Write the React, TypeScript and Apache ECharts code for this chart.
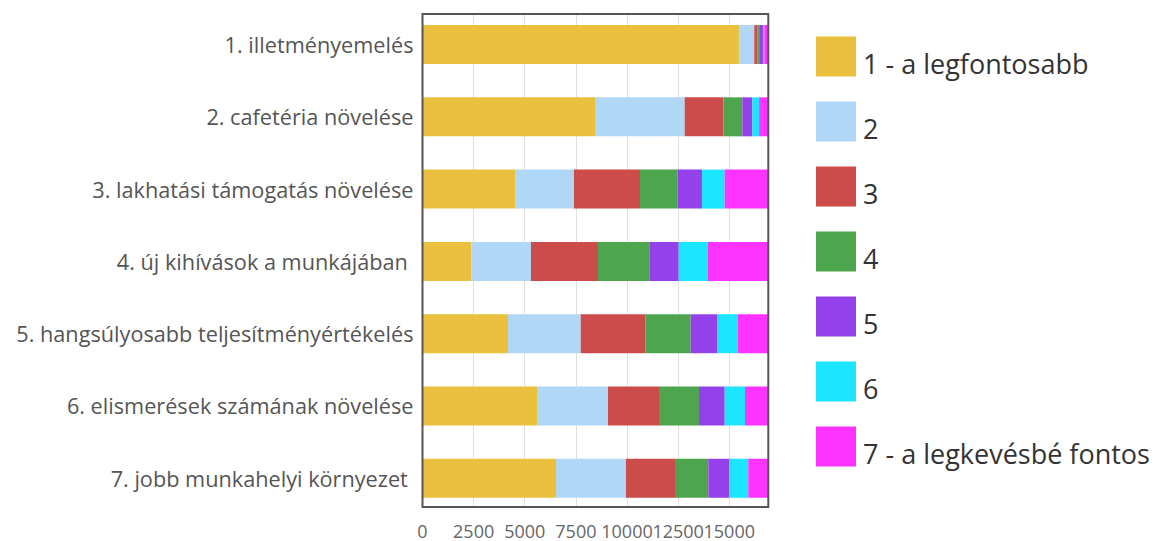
import React, { useEffect, useRef } from "react";
import * as echarts from "echarts";

const categories = [
  "1. illetményemelés",
  "2. cafetéria növelése",
  "3. lakhatási támogatás növelése",
  "4. új kihívások a munkájában ",
  "5. hangsúlyosabb teljesítményértékelés",
  "6. elismerések számának növelése",
  "7. jobb munkahelyi környezet ",
];

const seriesNames = [
  "1 - a legfontosabb",
  "2",
  "3",
  "4",
  "5",
  "6",
  "7 - a legkevésbé fontos",
];

const rank1 = [15475, 8435, 4557, 2386, 4181, 5599, 6528];
const rank2 = [750, 4385, 2851, 2919, 3555, 3472, 3423];
const rank3 = [163, 1890, 3227, 3276, 3159, 2494, 2396];
const rank4 = [114, 930, 1843, 2509, 2220, 1956, 1628];
const rank5 = [147, 490, 1188, 1438, 1286, 1257, 1027];
const rank6 = [65, 330, 1110, 1418, 1012, 993, 929];
const rank7 = [196, 455, 2132, 2963, 1496, 1139, 978];

const colors = ["#EBC03F", "#B0D7F6", "#CC4B4B", "#4DA64D", "#9440EB", "#1CE6FF", "#FF33FF"];

const axisMax = 16910;

export default function App() {
  const ref = useRef<HTMLDivElement>(null);
  useEffect(() => {
    document.body.style.margin = "0";
    const chart = echarts.init(ref.current!, null, { renderer: "svg" });
    const all = [rank1, rank2, rank3, rank4, rank5, rank6, rank7];
    const font = "'Open Sans', 'Noto Sans', sans-serif";
    chart.setOption({
      animation: false,
      color: colors,
      textStyle: { fontFamily: font },
      legend: {
        orient: "vertical",
        left: 816,
        top: 36,
        padding: 0,
        itemWidth: 40,
        itemHeight: 40,
        itemGap: 24,
        icon: "rect",
        data: seriesNames,
        formatter: "{a|{name}}",
        textStyle: {
          fontSize: 27,
          color: "#333",
          fontFamily: font,
          rich: {
            a: {
              fontSize: 27,
              color: "#333",
              fontFamily: font,
              lineHeight: 20,
              padding: [14, 0, 0, 2],
            },
          },
        },
      },
      grid: [
        { left: 422.5, top: 14, width: 345.8, height: 493, show: true, borderColor: "#555", borderWidth: 2, backgroundColor: "transparent", containLabel: false, z: 3 },
        { left: 422.5, top: 8.4, width: 345.8, height: 506, containLabel: false },
      ],
      xAxis: [
        {
          gridIndex: 0,
          type: "value",
          min: 0,
          max: axisMax,
          interval: 2500,
          axisLine: { show: false },
          axisTick: { show: false },
          splitLine: { show: true, lineStyle: { color: "#e0e0e0", width: 1 } },
          axisLabel: {
            fontSize: 18,
            color: "#666",
            margin: 15,
            showMaxLabel: false,
            fontFamily: font,
            formatter: (v: number) => String(v),
          },
        },
        {
          gridIndex: 1,
          type: "value",
          min: 0,
          max: axisMax,
          show: false,
          splitLine: { show: false },
        },
      ],
      yAxis: [
        {
          gridIndex: 0,
          type: "value",
          show: false,
          splitLine: { show: false },
        },
        {
          gridIndex: 1,
          type: "category",
          inverse: true,
          data: categories,
          axisLine: { show: false },
          axisTick: { show: false },
          axisLabel: { fontSize: 21.7, color: "#555", margin: 9, fontFamily: font },
        },
      ],
      series: all.map((d, i) => ({
        name: seriesNames[i],
        type: "bar",
        stack: "total",
        xAxisIndex: 1,
        yAxisIndex: 1,
        barWidth: 39,
        data: d,
        itemStyle: { color: colors[i] },
      })),
    });
    return () => chart.dispose();
  }, []);
  return <div ref={ref} style={{ width: 1157, height: 541, position: "absolute", left: 0, top: 0 }} />;
}
